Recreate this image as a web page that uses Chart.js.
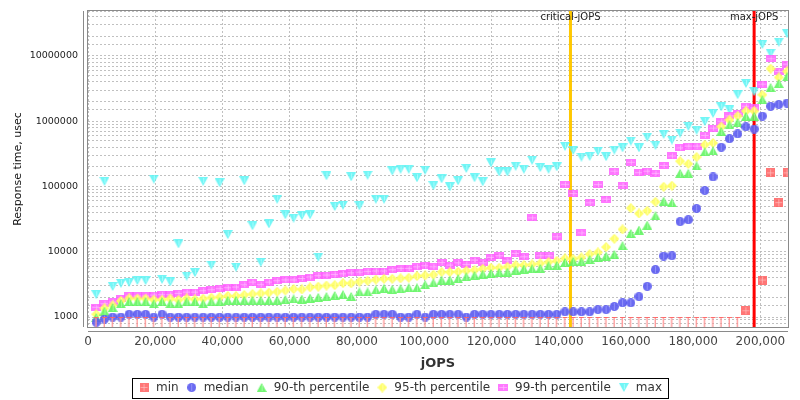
<!DOCTYPE html>
<html>
<head>
<meta charset="utf-8">
<script src="https://cdn.jsdelivr.net/npm/chart.js@4.4.0/dist/chart.umd.min.js"></script>
<style>
  html, body { margin: 0; padding: 0; background: #fff; }
  #wrap { width: 800px; height: 400px; }
</style>
</head>
<body>
<div id="wrap"><canvas id="chart" width="800" height="400"></canvas></div>
<script>
// load levels (jOPS) of the response-time curve
const jops = [
  2446, 4892, 7338, 9784, 12230, 14676, 17122, 19568, 22014, 24460,
  26906, 29352, 31798, 34244, 36690, 39136, 41582, 44028, 46474, 48920,
  51366, 53812, 56258, 58704, 61150, 63596, 66042, 68488, 70934, 73380,
  75826, 78272, 80718, 83164, 85610, 88056, 90502, 92948, 95394, 97840,
  100286, 102732, 105178, 107624, 110070, 112516, 114962, 117408, 119854, 122300,
  124746, 127192, 129638, 132084, 134530, 136976, 139422, 141868, 144314, 146760,
  149206, 151652, 154098, 156544, 158990, 161436, 163882, 166328, 168774, 171220,
  173666, 176112, 178558, 181004, 183450, 185896, 188342, 190788, 193234, 195680,
  198126, 200572, 203018, 205464, 207910
];

// response times, usec (values under 1000 sit below the visible range)
const minRt = [
  840, 840, 840, 840, 840, 840, 840, 840, 840, 840,
  840, 840, 840, 840, 840, 840, 840, 840, 840, 840,
  840, 840, 840, 840, 840, 840, 840, 840, 840, 840,
  840, 840, 840, 840, 840, 840, 840, 840, 840, 840,
  840, 840, 840, 840, 840, 840, 840, 840, 840, 840,
  840, 840, 840, 840, 840, 840, 840, 840, 840, 840,
  840, 840, 840, 840, 840, 840, 840, 840, 840, 840,
  840, 840, 840, 840, 840, 840, 840, 840, 840, 1250,
  null, 3690, 162000, 56700, 162000
];
const medianRt = [
  830, 930, 1000, 1000, 1100, 1100, 1100, 1000, 1100, 1000,
  1000, 1000, 1000, 1000, 1000, 1000, 1000, 1000, 1000, 1000,
  1000, 1000, 1000, 1000, 1000, 1000, 1000, 1000, 1000, 1000,
  1000, 1000, 1000, 1000, 1100, 1100, 1100, 1000, 1000, 1100,
  1000, 1100, 1100, 1100, 1100, 1000, 1100, 1100, 1100, 1100,
  1100, 1100, 1100, 1100, 1100, 1100, 1100, 1200, 1200, 1200,
  1200, 1300, 1300, 1450, 1650, 1650, 2050, 2950, 5300, 8600,
  8700, 29000, 31000, 46000, 87000, 140000, 400000, 540000, 640000, 820000,
  760000, 1200000, 1700000, 1800000, 1900000
];
const p90Rt = [
  980, 1235, 1400, 1600, 1720, 1720, 1720, 1600, 1720, 1600,
  1600, 1720, 1720, 1600, 1720, 1720, 1800, 1800, 1800, 1800,
  1800, 1800, 1810, 1850, 1900, 1880, 1950, 2000, 2060, 2140,
  2200, 2070, 2420, 2420, 2600, 2750, 2650, 2700, 2800, 2800,
  3130, 3340, 3670, 3690, 3860, 4140, 4340, 4550, 4660, 4830,
  4880, 5240, 5430, 5490, 5560, 6110, 6180, 6870, 7110, 7110,
  7640, 8190, 8590, 9100, 12400, 19100, 21500, 25600, 35600, 59700,
  56300, 159000, 159000, 207000, 340000, 350000, 700000, 880000, 960000, 1190000,
  1190000, 2140000, 3300000, 3800000, 4800000
];
const p95Rt = [
  1100, 1360, 1510, 1760, 1930, 1910, 1910, 1840, 1840, 1910,
  1820, 1930, 1860, 1910, 1980, 2020, 2100, 2100, 2170, 2250,
  2300, 2360, 2440, 2550, 2690, 2640, 2850, 2920, 3040, 3080,
  3300, 3280, 3480, 3580, 3750, 3850, 3850, 3910, 4000, 4240,
  4340, 4450, 4880, 4880, 4940, 5120, 5240, 5490, 5690, 5690,
  5890, 6250, 6250, 6400, 6630, 6950, 7280, 7900, 7720, 8190,
  9210, 9770, 11800, 15800, 22000, 46600, 38600, 42400, 58200, 99000,
  103000, 244000, 222000, 282000, 436000, 465000, 830000, 1050000, 1200000, 1430000,
  1430000, 2550000, 6400000, 4700000, 5800000
];
const p99Rt = [
  1410, 1600, 1700, 1890, 2100, 2100, 2100, 2170, 2200, 2200,
  2300, 2410, 2410, 2530, 2620, 2720, 2810, 2880, 3120, 3430,
  3130, 3430, 3600, 3700, 3700, 3900, 4100, 4300, 4400, 4500,
  4600, 4750, 4880, 5000, 5060, 5060, 5300, 5560, 5560, 5890,
  6110, 5890, 6870, 6250, 6780, 6400, 7450, 6780, 8190, 8690,
  7280, 9420, 8380, 33100, 8690, 8690, 17000, 108000, 78000, 19500,
  56300, 107000, 64000, 172000, 104000, 235000, 163000, 172000, 159000, 210000,
  294000, 391000, 416000, 416000, 605000, 785000, 1000000, 1210000, 1320000, 1700000,
  1600000, 3700000, 9100000, 5800000, 7500000
];
const maxRt = [
  2200, 120000, 2930, 3280, 3400, 3620, 3620, 130000, 3780, 3450,
  13200, 4250, 4780, 120000, 6250, 114000, 18300, 5800, 122000, 25000,
  6900, 26700, 63800, 36900, 32800, 35900, 36900, 8270, 146000, 49300,
  51700, 141000, 50500, 149000, 63800, 63800, 173000, 184000, 184000, 136000,
  178000, 103000, 131000, 99000, 122000, 189000, 136000, 118000, 230000, 167000,
  167000, 204000, 184000, 252000, 195000, 184000, 200000, 412000, 358000, 282000,
  290000, 347000, 286000, 362000, 391000, 496000, 391000, 572000, 426000, 630000,
  515000, 660000, 835000, 730000, 990000, 1320000, 1660000, 1500000, 2550000, 3800000,
  2850000, 15000000, 11000000, 16300000, 22000000
];

const xTicks = [0, 20000, 40000, 60000, 80000, 100000, 120000, 140000, 160000, 180000, 200000];
const criticalJops = 143500;
const maxJops = 198126;
const yTicksMin = 703;
const yTicksMax = 4.89e7;

// small marker images
function icon(w, h, paint) {
  const c = document.createElement('canvas');
  c.width = w; c.height = h;
  paint(c.getContext('2d'), w, h);
  return c;
}
function shape(g, pts, fill) {
  g.fillStyle = fill;
  g.beginPath();
  g.moveTo(pts[0][0], pts[0][1]);
  for (let i = 1; i < pts.length; i++) g.lineTo(pts[i][0], pts[i][1]);
  g.closePath();
  g.fill();
}
function cross(g, w, h, col) {
  g.fillStyle = col;
  g.fillRect(Math.floor(w / 2), 1, 1, h - 2);
  g.fillRect(1, Math.floor(h / 2), w - 2, 1);
}
const iconMin = icon(9, 9, (g, w, h) => {
  g.fillStyle = 'rgba(255,95,95,0.85)'; g.fillRect(0, 0, w, h);
  cross(g, w, h, 'rgba(255,200,200,0.6)');
});
const iconMedian = icon(9, 9, (g, w, h) => {
  g.fillStyle = 'rgba(90,90,240,0.9)';
  g.beginPath(); g.arc(4.5, 4.5, 4.5, 0, Math.PI * 2); g.fill();
  g.fillStyle = 'rgba(170,170,255,0.6)'; g.fillRect(4, 1, 1, 7);
});
const iconP90 = icon(10, 9, (g, w, h) => {
  shape(g, [[5, 0], [10, 9], [0, 9]], 'rgba(95,245,95,0.88)');
  g.fillStyle = 'rgba(190,255,190,0.6)'; g.fillRect(5, 2, 1, 6);
});
const iconP95 = icon(10, 10, (g, w, h) => {
  shape(g, [[5, 0], [10, 5], [5, 10], [0, 5]], 'rgba(255,255,95,0.9)');
  g.fillStyle = 'rgba(255,255,200,0.6)'; g.fillRect(5, 2, 1, 6);
});
const iconP99 = icon(10, 7, (g, w, h) => {
  g.fillStyle = 'rgba(255,95,255,0.85)'; g.fillRect(0, 0, w, h);
  cross(g, w, h, 'rgba(255,200,255,0.6)');
});
const iconMax = icon(10, 9, (g, w, h) => {
  shape(g, [[0, 0], [10, 0], [5, 9]], 'rgba(95,245,245,0.88)');
  g.fillStyle = 'rgba(200,255,255,0.6)'; g.fillRect(5, 1, 1, 5);
});
const iconStem = icon(7, 10, (g, w, h) => {
  g.fillStyle = 'rgba(255,140,140,0.85)';
  g.fillRect(3, 0, 1, h);
  g.fillStyle = 'rgba(255,170,170,0.5)';
  g.fillRect(2, 1, 1, h - 1);
  g.fillStyle = 'rgba(255,100,100,0.9)';
  g.fillRect(1, 0, 5, 1);
});

function points(values) {
  return jops.map((x, i) => ({ x: x, y: values[i] }));
}
function scatterSet(label, values, img) {
  return {
    type: 'scatter', label: label, data: points(values),
    pointStyle: img, pointRadius: 5, pointHoverRadius: 5, showLine: false
  };
}

const minSet = scatterSet('min', minRt, iconMin);
minSet.pointStyle = ctx => (ctx.raw && ctx.raw.y < 1000 ? iconStem : iconMin);
const legendIcons = [iconMin, iconMedian, iconP90, iconP95, iconP99, iconMax];

const datasets = [
  minSet,
  scatterSet('median', medianRt, iconMedian),
  scatterSet('90-th percentile', p90Rt, iconP90),
  scatterSet('95-th percentile', p95Rt, iconP95),
  scatterSet('99-th percentile', p99Rt, iconP99),
  scatterSet('max', maxRt, iconMax),
  {
    type: 'line', label: 'critical-jOPS',
    data: [{ x: criticalJops, y: yTicksMin }, { x: criticalJops, y: yTicksMax }],
    borderColor: 'rgb(255,200,0)', borderWidth: 3, pointRadius: 0
  },
  {
    type: 'line', label: 'max-jOPS',
    data: [{ x: maxJops, y: yTicksMin }, { x: maxJops, y: yTicksMax }],
    borderColor: 'rgb(255,0,0)', borderWidth: 3, pointRadius: 0
  }
];

const decorations = {
  id: 'decorations',
  afterLayout(chart) {
    // push the legend a little lower, as in the original
    const lg = chart.legend;
    if (lg) { lg.top += 3.5; lg.bottom += 3.5; }
  },
  afterDraw(chart) {
    const { ctx, chartArea: a, scales } = chart;
    ctx.save();
    // plot frame and offset axis lines
    ctx.strokeStyle = '#8a8a8a';
    ctx.lineWidth = 1;
    ctx.strokeRect(Math.round(a.left) - 0.5, Math.round(a.top) - 0.5,
      Math.round(a.right - a.left) + 1, Math.round(a.bottom - a.top) + 1);
    ctx.beginPath();
    ctx.moveTo(Math.round(a.left) - 4.5, Math.round(a.top));
    ctx.lineTo(Math.round(a.left) - 4.5, Math.round(a.bottom));
    ctx.moveTo(Math.round(a.left), Math.round(a.bottom) + 4.5);
    ctx.lineTo(Math.round(a.right), Math.round(a.bottom) + 4.5);
    ctx.stroke();

    // marker labels
    ctx.fillStyle = '#222';
    ctx.font = '10px "DejaVu Sans"';
    ctx.textAlign = 'center';
    ctx.textBaseline = 'middle';
    ctx.fillText('critical-jOPS', scales.x.getPixelForValue(criticalJops), a.top + 6);
    ctx.fillText('max-jOPS', scales.x.getPixelForValue(maxJops), a.top + 6);

    // legend border
    const boxes = chart.legend.legendHitBoxes;
    if (boxes && boxes.length) {
      const l = Math.min(...boxes.map(b => b.left)) - 6;
      const r = Math.max(...boxes.map(b => b.left + b.width)) + 6;
      const t = boxes[0].top - 4;
      const btm = boxes[0].top + boxes[0].height + 4;
      ctx.strokeStyle = '#000';
      ctx.strokeRect(Math.round(l) + 0.5, Math.round(t) + 0.5, Math.round(r - l), Math.round(btm - t));
    }
    ctx.restore();
  }
};

const gridColor = 'rgba(185,185,185,0.9)';

new Chart(document.getElementById('chart'), {
  data: { datasets: datasets },
  options: {
    responsive: false,
    animation: false,
    layout: { padding: { top: 11, left: 0, right: 0, bottom: 0 } },
    plugins: {
      tooltip: { enabled: false },
      legend: {
        position: 'bottom',
        labels: {
          usePointStyle: true,
          boxWidth: 12,
          padding: 7,
          color: '#333',
          font: { family: '"DejaVu Sans"', size: 12 },
          generateLabels: chart => Chart.defaults.plugins.legend.labels.generateLabels(chart)
            .filter(item => item.datasetIndex < 6)
            .map(item => { item.pointStyle = legendIcons[item.datasetIndex]; return item; })
        }
      }
    },
    scales: {
      x: {
        type: 'linear',
        min: 0,
        max: 208200,
        afterFit: s => { s.height = 44; },
        afterBuildTicks: s => { s.ticks = xTicks.map(v => ({ value: v })); },
        grid: { color: gridColor, drawTicks: false },
        border: { display: false, dash: [2, 2] },
        ticks: {
          autoSkip: false,
          maxRotation: 0,
          padding: 8,
          color: '#444',
          font: { family: '"DejaVu Sans"', size: 12 },
          callback: v => Number(v).toLocaleString('en-US')
        },
        title: {
          display: true, text: 'jOPS', color: '#333',
          font: { family: '"DejaVu Sans"', size: 13, weight: 'bold' },
          padding: { top: 5, bottom: 0 }
        }
      },
      y: {
        type: 'logarithmic',
        min: yTicksMin,
        max: yTicksMax,
        afterFit: s => { s.width = 88; s.paddingTop = 0; s.paddingBottom = 0; },
        grid: { color: gridColor, drawTicks: false },
        border: { display: false, dash: [2, 2] },
        ticks: {
          autoSkip: false,
          padding: 10,
          color: '#222',
          font: { family: '"DejaVu Sans"', size: 9.5 },
          callback: v => {
            const e = Math.log10(v);
            return Math.abs(e - Math.round(e)) < 1e-9 ? String(Math.round(v)) : '';
          }
        },
        title: {
          display: true, text: 'Response time, usec', color: '#111',
          font: { family: '"DejaVu Sans"', size: 11 },
          padding: { top: 12, bottom: 0 }
        }
      },
      yRight: {
        position: 'right',
        display: true,
        afterFit: s => { s.width = 12; s.paddingTop = 0; s.paddingBottom = 0; },
        grid: { display: false },
        border: { display: false },
        ticks: { display: false }
      }
    }
  },
  plugins: [decorations]
});
</script>
</body>
</html>
